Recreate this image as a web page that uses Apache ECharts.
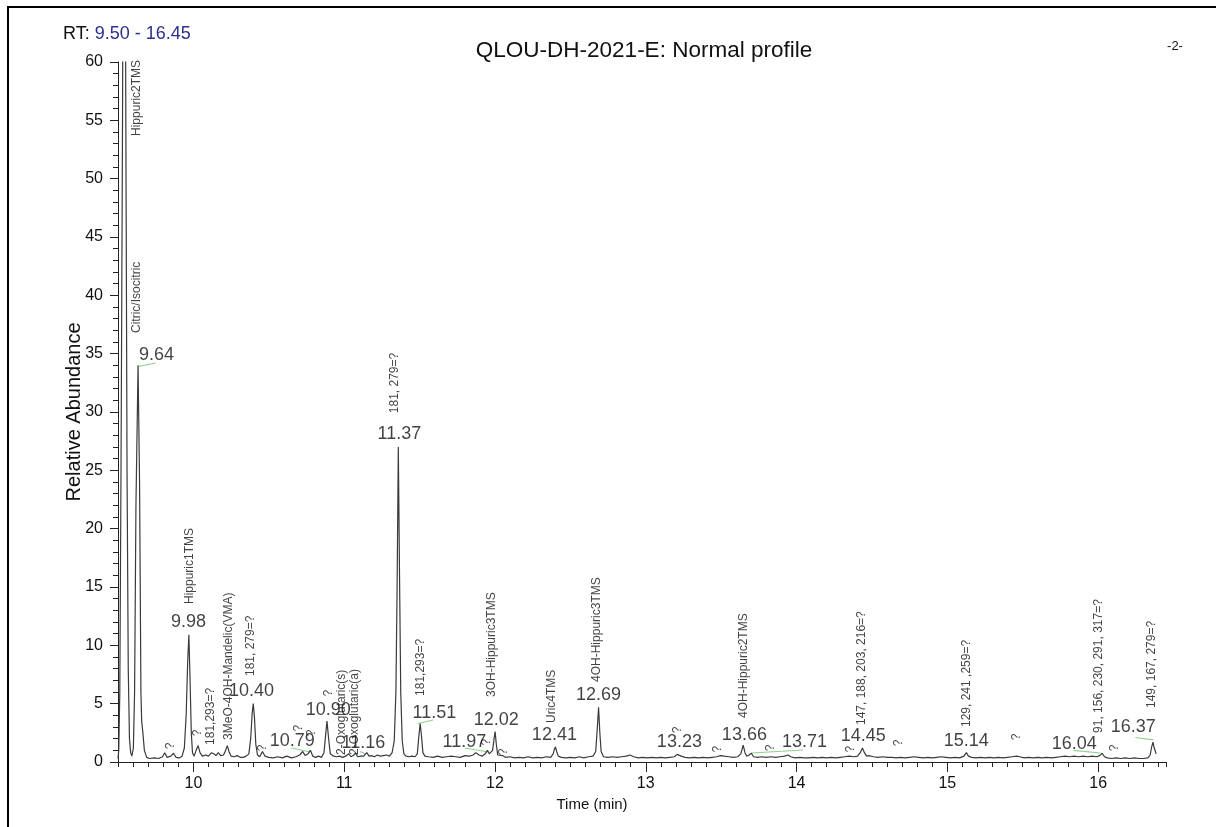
<!DOCTYPE html>
<html><head><meta charset="utf-8">
<script src="https://cdn.jsdelivr.net/npm/echarts@6/dist/echarts.min.js"></script>
<style>html,body{margin:0;padding:0;background:#fff}#c{width:1216px;height:827px}</style>
</head><body><div id="c"></div>
<script>
// ---- chromatogram trace (time in min, relative abundance) ----
const traceT = [9.500,9.505,9.512,9.520,9.530,9.542,9.552,9.560,9.568,9.576,9.584,9.592,9.602,9.610,9.619,9.633,9.643,9.652,9.657,9.665,9.675,9.690,9.710,9.740,9.770,9.795,9.810,9.825,9.850,9.868,9.885,9.905,9.925,9.940,9.952,9.962,9.970,9.978,9.986,9.994,10.005,10.018,10.031,10.044,10.060,10.080,10.100,10.120,10.135,10.150,10.165,10.180,10.200,10.214,10.225,10.236,10.250,10.270,10.290,10.310,10.330,10.350,10.368,10.380,10.390,10.397,10.405,10.414,10.425,10.440,10.458,10.475,10.500,10.530,10.560,10.590,10.620,10.650,10.680,10.705,10.725,10.742,10.760,10.776,10.792,10.810,10.830,10.850,10.866,10.876,10.886,10.896,10.908,10.930,10.950,10.970,10.990,11.010,11.030,11.045,11.060,11.075,11.090,11.110,11.130,11.150,11.165,11.180,11.200,11.220,11.240,11.260,11.280,11.300,11.318,11.332,11.343,11.351,11.359,11.367,11.375,11.385,11.396,11.410,11.430,11.450,11.470,11.485,11.495,11.504,11.513,11.522,11.535,11.560,11.590,11.620,11.650,11.680,11.710,11.740,11.770,11.800,11.830,11.855,11.872,11.882,11.895,11.915,11.935,11.950,11.962,11.975,11.984,11.993,12.001,12.009,12.018,12.030,12.050,12.070,12.100,12.130,12.160,12.190,12.220,12.250,12.280,12.310,12.340,12.370,12.386,12.394,12.401,12.409,12.420,12.440,12.470,12.500,12.530,12.560,12.590,12.620,12.650,12.668,12.678,12.687,12.695,12.704,12.720,12.750,12.780,12.810,12.840,12.870,12.895,12.920,12.950,12.980,13.010,13.040,13.070,13.100,13.130,13.160,13.190,13.208,13.220,13.235,13.260,13.290,13.320,13.350,13.380,13.410,13.440,13.470,13.495,13.520,13.550,13.580,13.610,13.630,13.646,13.658,13.670,13.685,13.700,13.715,13.740,13.770,13.800,13.830,13.860,13.890,13.920,13.945,13.960,13.990,14.020,14.050,14.080,14.110,14.140,14.170,14.200,14.230,14.260,14.290,14.320,14.350,14.380,14.405,14.422,14.437,14.450,14.465,14.480,14.510,14.540,14.570,14.600,14.630,14.660,14.690,14.720,14.750,14.780,14.810,14.840,14.870,14.900,14.930,14.960,14.990,15.020,15.050,15.080,15.110,15.126,15.140,15.160,15.190,15.220,15.250,15.280,15.310,15.340,15.370,15.400,15.430,15.460,15.480,15.510,15.540,15.570,15.600,15.630,15.660,15.690,15.720,15.750,15.780,15.810,15.840,15.870,15.900,15.930,15.960,15.990,16.010,16.027,16.042,16.060,16.090,16.120,16.150,16.180,16.210,16.240,16.270,16.300,16.330,16.345,16.355,16.364,16.372,16.385];
const traceV = [0.3,1.0,6,25,55,100,55,25,8,2,0.8,0.5,1.2,6,22,34.0,24,6,3.5,2.5,1.0,0.4,0.3,0.35,0.3,0.45,0.8,0.4,0.5,0.75,0.4,0.35,0.5,1.2,4,8.5,10.9,7,2.5,0.8,0.5,1.0,1.4,0.8,0.5,0.6,0.5,0.8,0.7,0.55,0.8,0.55,0.6,1.0,1.4,0.9,0.5,0.45,0.55,0.4,0.4,0.5,0.7,2.0,4.2,5.0,3.8,1.5,0.6,0.45,0.9,0.5,0.4,0.35,0.45,0.35,0.5,0.35,0.45,0.6,0.9,0.55,0.7,1.0,0.5,0.4,0.5,0.4,0.8,2.2,3.5,2.1,0.7,0.5,0.45,0.5,0.4,0.5,0.7,0.45,0.55,0.75,0.45,0.5,0.5,0.8,0.5,0.55,0.45,0.6,0.5,0.55,0.6,0.5,0.8,1.8,6,15,27,16,6,1.8,0.7,0.5,0.45,0.5,0.45,0.7,2.2,3.3,2.2,0.8,0.5,0.45,0.4,0.5,0.4,0.45,0.5,0.45,0.4,0.55,0.5,0.6,0.8,0.95,0.6,0.5,0.7,1.0,0.7,0.6,1.0,1.9,2.6,1.5,0.6,0.45,0.55,0.4,0.45,0.35,0.4,0.35,0.45,0.35,0.4,0.35,0.45,0.4,0.7,1.1,1.3,0.9,0.5,0.4,0.35,0.4,0.35,0.45,0.35,0.45,0.5,0.9,2.8,4.7,2.6,0.9,0.45,0.4,0.45,0.4,0.45,0.5,0.6,0.45,0.35,0.4,0.35,0.4,0.35,0.4,0.35,0.4,0.45,0.65,0.75,0.5,0.4,0.35,0.4,0.35,0.4,0.35,0.4,0.45,0.55,0.5,0.45,0.4,0.45,0.7,1.45,0.8,0.5,0.6,0.75,0.45,0.4,0.45,0.4,0.45,0.4,0.45,0.5,0.6,0.45,0.35,0.4,0.35,0.35,0.4,0.35,0.4,0.35,0.4,0.35,0.4,0.45,0.5,0.45,0.5,0.8,1.2,0.8,0.5,0.55,0.45,0.4,0.45,0.4,0.4,0.35,0.4,0.35,0.4,0.45,0.4,0.35,0.4,0.35,0.4,0.45,0.4,0.35,0.4,0.35,0.5,0.8,0.5,0.4,0.35,0.4,0.35,0.4,0.35,0.4,0.35,0.4,0.45,0.5,0.45,0.35,0.4,0.35,0.4,0.35,0.4,0.35,0.4,0.45,0.5,0.45,0.5,0.45,0.5,0.45,0.5,0.45,0.55,0.75,0.45,0.35,0.3,0.35,0.3,0.35,0.3,0.35,0.3,0.3,0.35,0.6,1.3,1.7,1.2,0.7];

// ---- retention-time labels (text, label centre in data units) ----
const rtText = ['9.64','9.98','10.40','10.79','10.90','11.16','11.37','11.51','11.97','12.02','12.41','12.69','13.23','13.66','13.71','14.45','15.14','16.04','16.37'];
const rtT    = [9.755,9.967,10.385,10.656,10.895,11.127,11.366,11.598,11.797,12.009,12.394,12.686,13.223,13.654,14.052,14.443,15.126,15.842,16.233];
const rtV    = [34.9,12.0,6.09,1.8,4.46,1.63,28.1,4.2,1.71,3.6,2.31,5.74,1.71,2.31,1.71,2.23,1.8,1.54,3.0];

// ---- compound names (rotated, anchored at their lower end) ----
const cmpText = ['Hippuric2TMS','Citric/Isocitric','Hippuric1TMS','181,293=?','3MeO-4OH-Mandelic(VMA)','181, 279=?','2-Oxoglutaric(s)','2-Oxoglutaric(a)','181, 279=?','181,293=?','3OH-Hippuric3TMS','Uric4TMS','4OH-Hippuric3TMS','4OH-Hippuric2TMS','147, 188, 203, 216=?','129, 241 ,259=?','91, 156, 230, 291, 317=?','149, 167, 279=?'];
const cmpT    = [9.622,9.622,9.973,10.113,10.232,10.378,10.981,11.068,11.333,11.505,11.976,12.374,12.672,13.647,14.430,15.126,16.001,16.353];
const cmpV    = [53.66,36.77,13.54,1.46,1.89,7.37,0.6,0.6,29.9,5.66,5.57,3.34,6.86,3.77,3.17,3.0,2.49,4.63];

// ---- unknown peak marks "?" ----
const qT = [9.847,10.027,10.458,10.696,10.782,10.895,11.943,12.056,13.210,13.475,13.826,14.357,14.675,15.458,16.107];
const qV = [1.37,2.49,1.2,2.91,2.49,5.91,1.71,0.86,2.74,1.11,1.2,1.11,1.63,2.14,1.2];

// ---- integration baselines (green), null separates segments ----
const baseT = [9.635,9.748,null,10.650,10.776,null,11.105,11.140,null,11.490,11.590,null,11.800,11.956,null,13.700,14.045,null,15.835,16.015,null,16.247,16.366];
const baseV = [33.9,34.2,null,1.2,0.86,null,0.9,0.7,null,3.3,3.6,null,1.2,0.86,null,0.77,1.03,null,1.0,0.77,null,2.1,1.9];

const xMajor = [10,11,12,13,14,15,16];

const FF = '"Liberation Sans", Arial, sans-serif';
const chart = echarts.init(document.getElementById('c'), null, {renderer:'canvas'});

const zip = (a,b) => a.map((t,i)=> t===null ? [null,null] : [t,b[i]]);
const labelData = (txt,t,v) => txt.map((s,i)=>({name:s, value:[t[i],v[i]]}));

chart.setOption({
  animation:false,
  backgroundColor:'#fff',
  textStyle:{fontFamily:FF},
  title:[
    {text:'{a|RT: }{b|9.50 - 16.45}', left:58, top:20,
     textStyle:{fontWeight:'normal', rich:{a:{fontSize:18,fontWeight:'normal',color:'#111',fontFamily:FF}, b:{fontSize:18,fontWeight:'normal',color:'#2b2f8f',fontFamily:FF}}}},
    {text:'QLOU-DH-2021-E: Normal profile', left:639, top:34, textAlign:'center',
     textStyle:{fontSize:22.5,fontWeight:'normal',color:'#111',fontFamily:FF}},
    {text:'-2-', left:1170, top:35, textAlign:'center',
     textStyle:{fontSize:13,fontWeight:'normal',color:'#111',fontFamily:FF}}
  ],
  graphic:[
    {type:'line', shape:{x1:7,y1:7,x2:1216,y2:7}, style:{stroke:'#000',lineWidth:2}},
    {type:'line', shape:{x1:8,y1:6,x2:8,y2:827}, style:{stroke:'#000',lineWidth:2}}
  ],
  grid:{left:118, right:50, top:62, bottom:65, containLabel:false},
  xAxis:[{
    type:'value', min:9.5, max:16.45, position:'bottom',
    axisLine:{show:true,onZero:false,lineStyle:{color:'#222',width:1}},
    axisTick:{show:true,length:10,customValues:xMajor,lineStyle:{color:'#222'}},
    axisLabel:{show:true,customValues:xMajor,fontSize:16,color:'#111',margin:14,fontFamily:FF},
    splitLine:{show:false},
    name:'Time (min)', nameLocation:'middle', nameGap:35,
    nameTextStyle:{fontSize:15,color:'#111',fontFamily:FF,padding:[0,100,0,0]}
  },{
    type:'value', min:9.5, max:16.45, interval:0.1, position:'bottom',
    axisLine:{show:false}, axisLabel:{show:false}, splitLine:{show:false},
    axisTick:{show:true,length:5,lineStyle:{color:'#222'}}
  }],
  yAxis:{
    type:'value', min:0, max:60, interval:5,
    axisLine:{show:true,lineStyle:{color:'#222',width:1}},
    axisTick:{show:true,length:8,lineStyle:{color:'#222'}},
    minorTick:{show:true,splitNumber:5,length:5,lineStyle:{color:'#222'}},
    axisLabel:{fontSize:16,color:'#111',margin:15,fontFamily:FF},
    splitLine:{show:false}, minorSplitLine:{show:false},
    name:'Relative Abundance', nameLocation:'middle', nameGap:34, nameRotate:90, nameMoveOverlap:false,
    nameTextStyle:{fontSize:20,color:'#111',fontFamily:FF}
  },
  series:[
    {type:'line', xAxisIndex:0, data:zip(traceT,traceV), symbol:'none', clip:true,
     lineStyle:{color:'#3a3a3a',width:1.2}, z:3},
    {type:'line', xAxisIndex:0, data:zip(baseT,baseV), symbol:'none', connectNulls:false,
     lineStyle:{color:'#8fd18f',width:1.2}, z:2},
    {type:'scatter', xAxisIndex:0, data:labelData(rtText,rtT,rtV), symbolSize:1,
     itemStyle:{color:'rgba(0,0,0,0)'}, z:4,
     label:{show:true, formatter:'{b}', position:'inside', fontSize:18, color:'#111', fontFamily:FF}},
    {type:'scatter', xAxisIndex:0, data:labelData(cmpText,cmpT,cmpV), symbolSize:1,
     itemStyle:{color:'rgba(0,0,0,0)'}, z:4,
     label:{show:true, formatter:'{b}', position:'inside', rotate:90, align:'left', verticalAlign:'middle',
            fontSize:12, color:'#111', fontFamily:FF}},
    {type:'scatter', xAxisIndex:0, data:labelData(qT.map(()=>'?'),qT,qV), symbolSize:1,
     itemStyle:{color:'rgba(0,0,0,0)'}, z:4,
     label:{show:true, formatter:'{b}', position:'inside', rotate:90, align:'center', verticalAlign:'middle',
            fontSize:12, color:'#111', fontFamily:FF}}
  ]
});
</script></body></html>
